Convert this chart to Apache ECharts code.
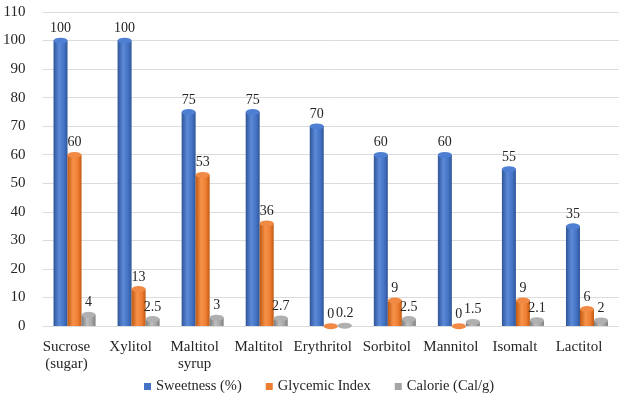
<!DOCTYPE html>
<html>
<head>
<meta charset="utf-8">
<script src="https://cdn.jsdelivr.net/npm/echarts@6/dist/echarts.min.js"></script>
<style>html,body{margin:0;padding:0;background:#fff}#c{width:627px;height:393px}</style>
</head>
<body>
<div id="c"></div>
<script>
var categories = ['Sucrose\n(sugar)', 'Xylitol', 'Maltitol\nsyrup', 'Maltitol', 'Erythritol', 'Sorbitol', 'Mannitol', 'Isomalt', 'Lactitol'];
var sweetness = [100, 100, 75, 75, 70, 60, 60, 55, 35];
var glycemic = [60, 13, 53, 36, 0, 9, 0, 9, 6];
var calorie = [4, 2.5, 3, 2.7, 0.2, 2.5, 1.5, 2.1, 2];
var seriesNames = ['Sweetness (%)', 'Glycemic Index', 'Calorie (Cal/g)'];
var yTicks = {min: 0, max: 110, interval: 10};

var FONT = '"Liberation Serif", "Times New Roman", serif';
var palette = [
  {base: '#4472C4', dark: '#2f5597', light: '#5b8ad8', cap: '#4f7fd3'},
  {base: '#ED7D31', dark: '#c0580f', light: '#f7924a', cap: '#f08a45'},
  {base: '#A5A5A5', dark: '#7c7c7c', light: '#bdbdbd', cap: '#b0b0b0'}
];
function grad(p) {
  return new echarts.graphic.LinearGradient(0, 0, 1, 0, [
    {offset: 0, color: p.dark},
    {offset: 0.4, color: p.light},
    {offset: 0.75, color: p.base},
    {offset: 1, color: p.dark}
  ]);
}
var datasets = [sweetness, glycemic, calorie];
var series = [];
datasets.forEach(function (d, i) {
  series.push({
    name: seriesNames[i], type: 'bar', data: d, barWidth: 14, barGap: '0%', z: 2,
    itemStyle: {color: grad(palette[i])},
    label: {show: true, position: 'top', distance: 5, color: '#262626', fontFamily: FONT, fontSize: 14}
  });
});
datasets.forEach(function (d, i) {
  series.push({
    name: seriesNames[i] + ' cap', type: 'pictorialBar', data: d, barWidth: 14, barGap: '0%', z: 3,
    symbol: 'circle', symbolSize: [14, 6], symbolPosition: 'end', symbolOffset: [0, '-50%'],
    itemStyle: {color: palette[i].cap, borderColor: palette[i].dark, borderWidth: 0.6},
    silent: true, legendHoverLink: false
  });
});

var chart = echarts.init(document.getElementById('c'), null, {renderer: 'canvas'});
chart.setOption({
  animation: false,
  backgroundColor: '#fff',
  grid: {left: 39, right: 8, top: 12, bottom: 67, containLabel: false},
  legend: {
    left: 139, top: 374,
    itemWidth: 7, itemHeight: 7, itemGap: 24, icon: 'rect',
    textStyle: {fontFamily: FONT, fontSize: 14.5, color: '#262626'},
    data: seriesNames.map(function (n, i) { return {name: n, itemStyle: {color: palette[i].base}}; })
  },
  xAxis: {
    type: 'category', data: categories,
    axisLine: {show: false}, axisTick: {show: false},
    axisLabel: {
      interval: 0, margin: 13, fontFamily: FONT, fontSize: 15, color: '#262626', lineHeight: 17,
      padding: [0, 16, 0, 0]
    }
  },
  yAxis: {
    type: 'value', min: yTicks.min, max: yTicks.max, interval: yTicks.interval,
    axisLine: {show: false}, axisTick: {show: false},
    axisLabel: {margin: 17, fontFamily: FONT, fontSize: 15, color: '#262626'},
    splitLine: {lineStyle: {color: '#dcdcdc', width: 1}}
  },
  series: series
});
</script>
</body>
</html>
